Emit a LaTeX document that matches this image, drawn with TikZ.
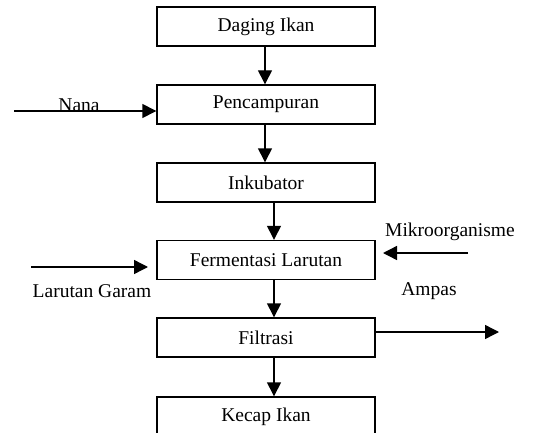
\documentclass[tikz,border=0pt]{standalone}
\usepackage{fontspec}
\setmainfont{Liberation Serif}
\usetikzlibrary{arrows.meta}
\begin{document}
\begin{tikzpicture}[x=1pt,y=-1pt,
  box/.style={draw,line width=1.4pt,minimum width=218pt,minimum height=39pt,inner sep=0pt,font=\fontsize{19.5}{23}\selectfont},
  lbl/.style={inner sep=0pt,font=\fontsize{19.5}{23}\selectfont},
  arr/.style={line width=1.4pt,-{Triangle[length=14pt,width=14pt]}}]
\useasboundingbox (0,0) rectangle (535,433);
\clip (0,0) rectangle (535,433);
\node[box] (dag) at (266,26.5) {Daging Ikan};
\node[box] (pen) at (266,104.5) {Pencampuran};
\node[box] (ink) at (266,182.5) {Inkubator};
\node[box] (fer) at (266,260) {Fermentasi Larutan};
\node[box] (fil) at (266,337.5) {Filtrasi};
\node[box] (kec) at (266,416.5) {Kecap Ikan};
\coordinate (xa) at (265,0);
\coordinate (xb) at (274,0);
\draw[arr] (dag.south -| xa) -- (pen.north -| xa);
\draw[arr] (pen.south -| xa) -- (ink.north -| xa);
\draw[arr] (ink.south -| xb) -- (fer.north -| xb);
\draw[arr] (fer.south -| xb) -- (fil.north -| xb);
\draw[arr] (fil.south -| xb) -- (kec.north -| xb);
\coordinate (nanaS) at (14,111);
\draw[arr] (nanaS) -- (nanaS -| pen.west);
\node[lbl,anchor=base] (nana) at (79,112) {Nana};
\coordinate (lgS) at (31,267);
\coordinate (lgE) at (148,267);
\draw[arr] (lgS) -- (lgE);
\node[lbl] (lg) at (92,291) {Larutan Garam};
\coordinate (miS) at (468,253);
\coordinate (miE) at (383,253);
\draw[arr] (miS) -- (miE);
\node[lbl] (mi) at (450,232) {Mikroorganisme};
\coordinate (amE) at (499,332);
\draw[arr] (fil.east |- amE) -- (amE);
\node[lbl] (am) at (429,291) {Ampas};
\end{tikzpicture}
\end{document}
